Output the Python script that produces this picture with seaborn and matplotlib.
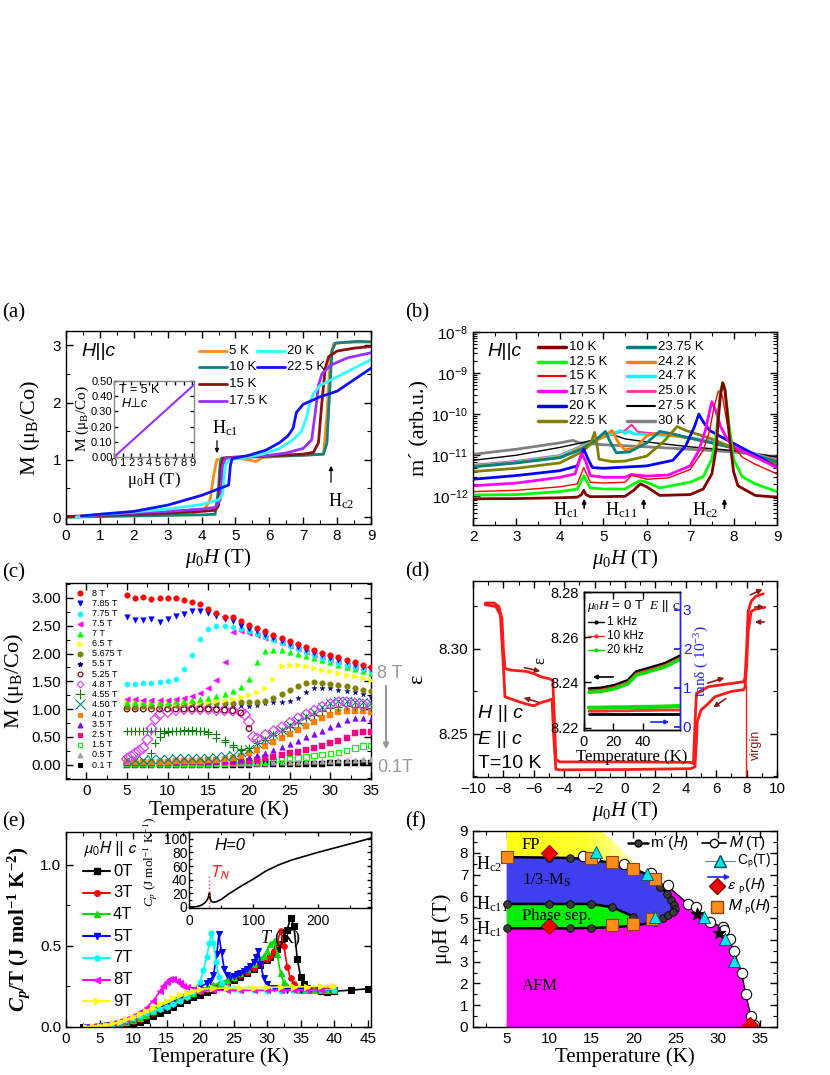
import numpy as np
import pandas as pd
import matplotlib
matplotlib.use("Agg")
import matplotlib.pyplot as plt
import seaborn as sns
from matplotlib.lines import Line2D
from matplotlib.patches import Polygon, FancyArrowPatch
from matplotlib.ticker import MultipleLocator, LogLocator, NullFormatter, FormatStrFormatter
from matplotlib.colors import LinearSegmentedColormap

sns.set_theme(style="ticks")
plt.rcParams["font.family"] = ["Liberation Sans", "DejaVu Sans"]
plt.rcParams["mathtext.fontset"] = "custom"
plt.rcParams["mathtext.rm"] = "Liberation Serif"
plt.rcParams["mathtext.it"] = "Liberation Serif:italic"
plt.rcParams["mathtext.bf"] = "Liberation Serif:bold"
plt.rcParams["mathtext.bfit"] = "Liberation Serif:italic:bold"
for k in ["axes.edgecolor", "xtick.color", "ytick.color", "text.color", "axes.labelcolor"]:
    plt.rcParams[k] = "black"
plt.rcParams["axes.linewidth"] = 1.0
SERIF = "Liberation Serif"

# ---------------- panel (a): M(H), H||c ----------------
a_labels = ["5 K", "10 K", "15 K", "17.5 K", "20 K", "22.5 K"]
a_colors = ["#FF8C1A", "#138080", "#8B1010", "#9B30FF", "#30FFFF", "#1010FF"]
a_H_5K = [0, 1, 2, 3, 3.8, 4.1, 4.25, 4.35, 4.45, 4.6, 5.0, 5.4, 5.6, 5.8, 6.2, 7.0, 7.6, 7.7, 7.8, 7.9, 8.2, 9.0]
a_M_5K = [0.01, 0.02, 0.03, 0.05, 0.08, 0.15, 0.3, 0.7, 1.0, 1.02, 1.03, 1.0, 0.97, 1.04, 1.06, 1.08, 1.1, 1.8, 2.8, 3.03, 3.05, 3.06]
a_H_10K = [0, 1, 2, 3, 4, 4.4, 4.5, 4.55, 4.6, 5, 6, 7, 7.6, 7.7, 7.78, 7.85, 7.95, 8.2, 8.6, 9.0]
a_M_10K = [0.0, 0.01, 0.02, 0.03, 0.04, 0.05, 0.5, 0.95, 1.03, 1.04, 1.06, 1.08, 1.1, 1.3, 2.2, 2.9, 3.04, 3.05, 3.07, 3.06]
a_H_15K = [0, 1, 2, 3, 4, 4.4, 4.5, 4.58, 4.65, 5, 6, 7, 7.3, 7.45, 7.55, 7.65, 7.75, 8.0, 8.5, 9.0]
a_M_15K = [0.01, 0.03, 0.05, 0.07, 0.1, 0.12, 0.2, 0.9, 1.03, 1.05, 1.07, 1.1, 1.13, 1.3, 2.0, 2.6, 2.8, 2.9, 2.95, 2.98]
a_H_17K = [0.3, 1, 2, 3, 4, 4.4, 4.55, 4.62, 4.7, 5, 6, 6.5, 7.0, 7.25, 7.35, 7.45, 7.55, 7.8, 8.3, 9.0]
a_M_17K = [0.0, 0.04, 0.07, 0.1, 0.14, 0.17, 0.3, 0.9, 1.03, 1.04, 1.08, 1.12, 1.2, 1.35, 1.8, 2.3, 2.5, 2.65, 2.78, 2.87]
a_H_20K = [0.3, 1, 2, 3, 4, 4.5, 4.62, 4.7, 4.8, 5.2, 5.8, 6.3, 6.7, 6.95, 7.1, 7.2, 7.3, 7.5, 8.0, 8.5, 9.0]
a_M_20K = [0.0, 0.05, 0.09, 0.14, 0.22, 0.3, 0.4, 0.9, 1.0, 1.03, 1.1, 1.2, 1.35, 1.5, 1.75, 2.0, 2.15, 2.3, 2.45, 2.6, 2.75]
a_H_22K = [0.45, 1, 2, 3, 4, 4.4, 4.8, 4.85, 4.9, 5.4, 5.9, 6.3, 6.55, 6.7, 6.8, 7.0, 7.5, 8.0, 8.5, 9.0]
a_M_22K = [0.02, 0.05, 0.1, 0.21, 0.38, 0.47, 0.56, 0.9, 1.02, 1.08, 1.17, 1.3, 1.42, 1.55, 1.83, 1.97, 2.1, 2.2, 2.4, 2.6]
a_in_H = [0, 9.2]
a_in_M = [0, 0.475]

# ---------------- panel (b): m'(H) ----------------
b_labels = ["10 K", "12.5 K", "15 K", "17.5 K", "20 K", "22.5 K",
            "23.75 K", "24.2 K", "24.7 K", "25.0 K", "27.5 K", "30 K"]
b_colors = ["#800000", "#00FF00", "#FF0000", "#FF00FF", "#0000FF", "#808000",
            "#008080", "#FF8000", "#00FFFF", "#FF3399", "#000000", "#808080"]
b_widths = [2, 2, 1, 2, 2, 2, 2, 2, 2, 1.5, 1, 2]
b_H = [
    [2, 3, 4, 4.4, 4.5, 4.55, 4.6, 4.7, 5.0, 5.5, 5.7, 5.85, 6.0, 6.3, 7.0, 7.3, 7.5, 7.6, 7.65, 7.7, 7.75, 7.8, 7.85, 7.9, 8.0, 8.1, 8.5, 9.0],
    [2, 3, 4, 4.4, 4.55, 4.7, 5.0, 5.5, 5.7, 5.85, 6.0, 6.3, 7.0, 7.3, 7.5, 7.6, 7.65, 7.7, 7.75, 7.8, 7.85, 7.9, 8.0, 8.2, 8.5, 9.0],
    [2, 3, 4, 4.4, 4.55, 4.7, 5.0, 5.5, 5.65, 5.8, 6.0, 6.5, 7.0, 7.3, 7.45, 7.55, 7.65, 7.7, 7.75, 7.85, 8.0, 8.2, 8.5, 9.0],
    [2, 3, 4, 4.35, 4.5, 4.6, 4.7, 5.0, 5.5, 5.65, 6.0, 6.5, 7.0, 7.2, 7.35, 7.45, 7.5, 7.58, 7.7, 7.85, 8.0, 8.5, 9.0],
    [2, 3, 4, 4.4, 4.55, 4.65, 4.75, 5.0, 6.0, 6.6, 6.9, 7.1, 7.2, 7.3, 7.45, 7.8, 8.2, 8.6, 9.0],
    [2, 3, 4, 4.5, 4.7, 4.8, 4.85, 4.9, 5.2, 5.5, 6.0, 6.4, 6.7, 6.9, 7.5, 8.0, 8.5, 9.0],
    [2, 3, 4, 4.5, 4.8, 5.05, 5.15, 5.3, 5.6, 6.0, 6.3, 6.6, 7.0, 7.5, 8.0, 8.5, 9.0],
    [2, 3, 4, 4.5, 5.0, 5.2, 5.35, 5.5, 5.75, 6.0, 6.2, 6.6, 7.0, 7.5, 8.0, 8.5, 9.0],
    [2, 3, 4, 4.5, 5.0, 5.4, 5.5, 5.6, 5.7, 6.0, 6.5, 7.0, 7.5, 8.0, 8.5, 9.0],
    [2, 3, 4, 4.5, 5.0, 5.5, 5.65, 5.8, 6.5, 7.0, 7.5, 8.0, 8.5, 9.0],
    [2, 3, 4, 4.5, 5.0, 5.2, 5.5, 6.0, 7.0, 8.0, 8.5, 9.0],
    [2, 3, 4, 4.3, 4.45, 5.0, 6.0, 7.0, 8.0, 8.5, 9.0],
]
b_m = [
    [8.7e-13, 8.8e-13, 9.2e-13, 9.5e-13, 1.1e-12, 1.4e-12, 1.1e-12, 9.8e-13, 9.8e-13, 1.0e-12, 1.4e-12, 2.0e-12, 1.7e-12, 1.05e-12, 1.1e-12, 1.5e-12, 3.5e-12, 1.5e-11, 8e-11, 3e-10, 5.8e-10, 4e-10, 1.2e-10, 3e-11, 4e-12, 1.8e-12, 1.05e-12, 9.5e-13],
    [1.07e-12, 1.1e-12, 1.3e-12, 1.5e-12, 3.2e-12, 1.6e-12, 1.5e-12, 1.5e-12, 2.0e-12, 2.4e-12, 2.2e-12, 1.6e-12, 2.2e-12, 3e-12, 8e-12, 3e-11, 1.2e-10, 3.5e-10, 5.8e-10, 4e-10, 1.5e-10, 5e-11, 8e-12, 3e-12, 2e-12, 1.3e-12],
    [1.3e-12, 1.4e-12, 1.7e-12, 2.0e-12, 5e-12, 2.2e-12, 2.1e-12, 2.2e-12, 3.2e-12, 3.0e-12, 2.6e-12, 2.8e-12, 4.5e-12, 1.3e-11, 4e-11, 1.5e-10, 3.6e-10, 3.8e-10, 2.5e-10, 6e-11, 1.6e-11, 9e-12, 6e-12, 3.5e-12],
    [1.8e-12, 2.1e-12, 2.9e-12, 3.5e-12, 1.1e-11, 7e-12, 3.2e-12, 2.9e-12, 2.9e-12, 3.4e-12, 3.1e-12, 3.3e-12, 5.5e-12, 1.3e-11, 4e-11, 1.2e-10, 2e-10, 1.3e-10, 5e-11, 2.5e-11, 1.6e-11, 9e-12, 5e-12],
    [2.6e-12, 3.2e-12, 4.2e-12, 5.5e-12, 1.4e-11, 8e-12, 5e-12, 4.8e-12, 5.5e-12, 7.5e-12, 1.7e-11, 5e-11, 1.0e-10, 6.5e-11, 4e-11, 2.5e-11, 1.5e-11, 9e-12, 5e-12],
    [4e-12, 4.8e-12, 6.5e-12, 1.2e-11, 1.8e-11, 3.6e-11, 2e-11, 8e-12, 7e-12, 7.2e-12, 9.5e-12, 2.2e-11, 5e-11, 4e-11, 2.5e-11, 1.5e-11, 9e-12, 6e-12],
    [5.2e-12, 6.5e-12, 8.7e-12, 1.4e-11, 2.2e-11, 3.8e-11, 2.2e-11, 1.15e-11, 1.2e-11, 2e-11, 3.8e-11, 3.3e-11, 2.6e-11, 2e-11, 1.5e-11, 1.0e-11, 7e-12],
    [5.3e-12, 6.6e-12, 9e-12, 1.5e-11, 2.8e-11, 4e-11, 2e-11, 1.35e-11, 1.5e-11, 3e-11, 3.4e-11, 3e-11, 2.6e-11, 2e-11, 1.5e-11, 1.0e-11, 7e-12],
    [5.4e-12, 6.8e-12, 9.5e-12, 1.6e-11, 2.8e-11, 4e-11, 3.4e-11, 3.9e-11, 3.3e-11, 3.2e-11, 3e-11, 2.7e-11, 2.1e-11, 1.5e-11, 1.05e-11, 7e-12],
    [5.8e-12, 7.2e-12, 1.0e-11, 1.7e-11, 2.8e-11, 4e-11, 5.5e-11, 3.7e-11, 3.1e-11, 2.7e-11, 2.2e-11, 1.55e-11, 1.1e-11, 7.5e-12],
    [7.5e-12, 1.0e-11, 1.55e-11, 2.0e-11, 2.7e-11, 3.2e-11, 2.5e-11, 2.1e-11, 1.6e-11, 1.3e-11, 1.1e-11, 9e-12],
    [1.05e-11, 1.4e-11, 2e-11, 2.3e-11, 2e-11, 1.8e-11, 1.6e-11, 1.4e-11, 1.2e-11, 1.05e-11, 9e-12],
]

# ---------------- panel (c): M(T) ----------------
c_T = list(range(5, 36))
c_8T = [3.05, 3.00, 3.02, 2.98, 3.00, 3.00, 3.00, 2.97, 2.93, 2.90, 2.80, 2.73, 2.66, 2.65, 2.58, 2.52, 2.46, 2.40, 2.34, 2.28, 2.23, 2.17, 2.11, 2.06, 2.01, 1.97, 1.93, 1.88, 1.84, 1.79, 1.75]
c_785T = [2.66, 2.60, 2.60, 2.62, 2.57, 2.63, 2.68, 2.72, 2.77, 2.77, 2.73, 2.68, 2.62, 2.58, 2.50, 2.45, 2.40, 2.34, 2.28, 2.22, 2.17, 2.11, 2.06, 2.01, 1.97, 1.92, 1.88, 1.84, 1.80, 1.76, 1.73]
c_775T = [1.45, 1.45, 1.46, 1.47, 1.48, 1.50, 1.55, 1.72, 1.97, 2.27, 2.45, 2.50, 2.50, 2.48, 2.45, 2.41, 2.36, 2.30, 2.25, 2.19, 2.13, 2.08, 2.02, 1.97, 1.92, 1.88, 1.83, 1.79, 1.75, 1.72, 1.69]
c_75T = [1.18, 1.18, 1.17, 1.16, 1.16, 1.17, 1.18, 1.20, 1.23, 1.28, 1.38, 1.52, 1.85, 2.38, 2.40, 2.37, 2.33, 2.28, 2.24, 2.19, 2.14, 2.08, 2.03, 1.98, 1.93, 1.88, 1.84, 1.80, 1.76, 1.73, 1.70]
c_7T = [1.12, 1.12, 1.12, 1.12, 1.13, 1.13, 1.14, 1.15, 1.16, 1.18, 1.20, 1.23, 1.27, 1.32, 1.40, 1.55, 1.85, 2.05, 2.07, 2.06, 2.03, 2.00, 1.96, 1.92, 1.88, 1.84, 1.80, 1.76, 1.72, 1.69, 1.65]
c_65T = [1.12, 1.12, 1.11, 1.11, 1.11, 1.11, 1.11, 1.12, 1.12, 1.13, 1.13, 1.14, 1.16, 1.18, 1.21, 1.25, 1.30, 1.38, 1.55, 1.78, 1.80, 1.80, 1.77, 1.74, 1.71, 1.68, 1.65, 1.62, 1.59, 1.56, 1.53]
c_5675T = [1.03, 1.04, 1.05, 1.06, 1.07, 1.08, 1.08, 1.09, 1.10, 1.10, 1.10, 1.10, 1.11, 1.11, 1.12, 1.12, 1.13, 1.15, 1.20, 1.27, 1.35, 1.42, 1.46, 1.48, 1.47, 1.45, 1.43, 1.41, 1.38, 1.35, 1.33]
c_55T = [1.05, 1.05, 1.05, 1.06, 1.06, 1.07, 1.07, 1.07, 1.08, 1.08, 1.08, 1.08, 1.07, 1.07, 1.07, 1.06, 1.08, 1.10, 1.12, 1.13, 1.15, 1.20, 1.30, 1.37, 1.38, 1.37, 1.35, 1.33, 1.30, 1.27, 1.22]
c_T525 = list(range(5, 21))
c_525T = [1.00, 1.00, 1.00, 1.00, 1.00, 1.00, 1.00, 1.00, 1.00, 1.00, 1.00, 0.99, 0.98, 0.97, 0.93, 0.65]
c_T48 = [5, 5.5, 6, 6.5, 7, 7.5, 8, 8.5, 9, 10, 11, 12, 13, 14, 15, 16, 17, 18, 19, 19.5, 20, 20.5,
         21, 22, 23, 24, 25, 26, 27, 28, 29, 30, 31, 32, 33, 34, 35]
c_48T = [0.10, 0.15, 0.20, 0.25, 0.30, 0.45, 0.65, 0.82, 0.90, 0.95, 0.98, 1.00, 1.00, 1.00, 1.00, 0.98, 0.98, 0.97, 0.95, 0.90, 0.77, 0.50,
         0.47, 0.53, 0.60, 0.67, 0.75, 0.83, 0.90, 0.97, 1.04, 1.09, 1.12, 1.12, 1.10, 1.08, 1.05]
c_T455 = [5, 5.5, 6, 6.5, 7, 7.5, 8, 8.5, 9, 9.5, 10, 10.5, 11, 11.5, 12, 12.5, 13, 13.5, 14, 14.5, 15,
          16, 17, 18, 19, 20, 21, 22, 23, 24, 25, 26, 27, 28, 29, 30, 31, 32, 33, 34, 35,
          8, 8.5, 9, 9.5, 10, 11, 12, 13, 14, 15, 16, 17, 18, 19]
c_455T = [0.60, 0.60, 0.60, 0.60, 0.60, 0.60, 0.60, 0.60, 0.60, 0.60, 0.60, 0.60, 0.60, 0.60, 0.61, 0.61, 0.61, 0.61, 0.60, 0.60, 0.59,
          0.55, 0.45, 0.35, 0.28, 0.30, 0.38, 0.45, 0.53, 0.60, 0.68, 0.75, 0.83, 0.90, 0.97, 1.02, 1.04, 1.05, 1.04, 1.03, 1.02,
          0.20, 0.38, 0.50, 0.56, 0.58, 0.60, 0.62, 0.62, 0.60, 0.55, 0.48, 0.40, 0.32, 0.26]
c_450T = [0.08, 0.09, 0.09, 0.10, 0.10, 0.10, 0.11, 0.11, 0.12, 0.12, 0.12, 0.13, 0.15, 0.18, 0.22, 0.28, 0.38, 0.46, 0.55, 0.63, 0.71, 0.79, 0.87, 0.95, 1.03, 1.10, 1.15, 1.15, 1.13, 1.12, 1.10]
c_40T = [0.05, 0.05, 0.05, 0.05, 0.05, 0.05, 0.06, 0.06, 0.07, 0.07, 0.08, 0.09, 0.10, 0.12, 0.15, 0.20, 0.26, 0.33, 0.40, 0.48, 0.55, 0.62, 0.69, 0.76, 0.83, 0.90, 0.95, 0.97, 0.97, 0.96, 0.94]
c_35T = [0.05, 0.05, 0.05, 0.05, 0.05, 0.05, 0.05, 0.06, 0.06, 0.06, 0.07, 0.07, 0.08, 0.08, 0.10, 0.13, 0.17, 0.21, 0.26, 0.31, 0.37, 0.43, 0.49, 0.55, 0.61, 0.67, 0.73, 0.80, 0.84, 0.84, 0.82]
c_25T = [0.03, 0.03, 0.03, 0.03, 0.03, 0.03, 0.04, 0.04, 0.04, 0.04, 0.04, 0.05, 0.05, 0.05, 0.06, 0.07, 0.09, 0.11, 0.14, 0.17, 0.20, 0.23, 0.27, 0.30, 0.34, 0.38, 0.42, 0.48, 0.56, 0.58, 0.58]
c_15T = [0.02, 0.02, 0.02, 0.02, 0.02, 0.02, 0.02, 0.03, 0.03, 0.03, 0.03, 0.03, 0.03, 0.04, 0.04, 0.04, 0.05, 0.06, 0.07, 0.09, 0.11, 0.12, 0.14, 0.16, 0.18, 0.20, 0.22, 0.25, 0.30, 0.33, 0.34]
c_05T = [0.01, 0.01, 0.01, 0.01, 0.01, 0.01, 0.01, 0.01, 0.01, 0.01, 0.01, 0.02, 0.02, 0.02, 0.02, 0.02, 0.03, 0.03, 0.04, 0.04, 0.05, 0.05, 0.06, 0.06, 0.07, 0.07, 0.08, 0.08, 0.09, 0.10, 0.10]
c_01T = [0.00, 0.00, 0.00, 0.00, 0.00, 0.00, 0.00, 0.00, 0.00, 0.00, 0.00, 0.00, 0.00, 0.00, 0.00, 0.00, 0.005, 0.005, 0.01, 0.01, 0.01, 0.01, 0.015, 0.015, 0.015, 0.02, 0.02, 0.02, 0.02, 0.025, 0.025]
c_labels = ["8 T", "7.85 T", "7.75 T", "7.5 T", "7 T", "6.5 T", "5.675 T", "5.5 T", "5.25 T", "4.8 T",
            "4.55 T", "4.50 T", "4.0 T", "3.5 T", "2.5 T", "1.5 T", "0.5 T", "0.1 T"]

# ---------------- panel (d): dielectric constant ----------------
d_up_H = [-9.2, -8.6, -8.3, -8.1, -8.0, -7.9, -7.5, -6.5, -6.0, -5.5, -5.0, -4.75, -4.65, -4.55, -4.3, 0, 4.3, 4.5, 4.6, 4.7,
          5.5, 7.0, 7.8, 7.9, 8.0, 8.1, 8.3, 8.6, 9.1]
d_up_eps = [8.327, 8.327, 8.325, 8.318, 8.300, 8.2885, 8.2875, 8.2868, 8.2855, 8.2835, 8.2825, 8.2815, 8.260, 8.235, 8.2335, 8.2335, 8.2332, 8.2325, 8.255, 8.2738,
            8.2778, 8.2797, 8.2807, 8.283, 8.300, 8.322, 8.328, 8.331, 8.3325]
d_dn_H = [9.2, 8.6, 8.3, 8.1, 8.0, 7.9, 7.8, 7.0, 5.9, 5.5, 5.0, 4.75, 4.7, 4.6, 4.3, 0, -4.3, -4.55, -4.7, -4.8,
          -5.1, -5.5, -6.0, -6.6, -7.9, -8.0, -8.2, -8.5, -9.2]
d_dn_eps = [8.3245, 8.3235, 8.322, 8.31, 8.29, 8.2775, 8.276, 8.275, 8.2718, 8.268, 8.264, 8.257, 8.245, 8.2305, 8.2295, 8.229, 8.2288, 8.2292, 8.25, 8.2705,
            8.2695, 8.2685, 8.2665, 8.2678, 8.2718, 8.29, 8.32, 8.325, 8.326]
d_virgin_H = [7.95, 7.95]
d_virgin_eps = [8.20, 8.279]
d_in_T = [3.4, 11.5, 20.7, 29.9, 35.6, 43.7, 55.2, 65.5]
d_in_eps_1k = [8.2373, 8.2376, 8.2388, 8.2410, 8.2448, 8.2463, 8.2485, 8.2518]
d_in_eps_10k = [8.2365, 8.2368, 8.2380, 8.2402, 8.2440, 8.2455, 8.2477, 8.2510]
d_in_eps_20k = [8.2357, 8.2360, 8.2372, 8.2394, 8.2432, 8.2447, 8.2469, 8.2502]
d_in_tan_1k = [0.33, 0.33, 0.33, 0.33, 0.33, 0.33, 0.33, 0.33]
d_in_tan_10k = [0.40, 0.40, 0.41, 0.41, 0.42, 0.42, 0.43, 0.43]
d_in_tan_20k = [0.49, 0.49, 0.50, 0.50, 0.51, 0.51, 0.52, 0.53]

# ---------------- panel (e): specific heat ----------------
e_labels = ["0T", "3T", "4T", "5T", "7T", "8T", "9T"]
e_colors = ["#000000", "#FF0000", "#00DD00", "#0000FF", "#00FFFF", "#FF00FF", "#FFFF00"]
e_markers = ["s", "o", "^", "v", "h", "<", ">"]
e_T = [
    [2.5, 4, 5, 6, 7, 8, 9, 10, 11, 12, 13, 14, 15, 16, 17, 18, 19, 20, 21, 22, 23, 24, 25, 26, 27, 28, 29, 30,
     30.5, 31, 31.5, 32, 32.5, 33, 33.5, 34, 34.5, 35, 35.5, 36, 37, 38, 39, 40, 42.5, 45],
    [3, 4, 5, 6, 7, 8, 9, 10, 11, 12, 13, 14, 15, 16, 17, 18, 19, 20, 21, 22, 23, 24, 25, 26, 27, 28, 29, 30,
     30.5, 31, 31.5, 32, 32.5, 33, 33.5, 34, 35, 36, 37, 38, 39, 40],
    [3, 4, 5, 6, 7, 8, 9, 10, 11, 12, 13, 14, 15, 16, 17, 18, 19, 20, 21, 22, 23, 24, 25, 26, 27, 28, 29,
     29.5, 30, 30.5, 31, 31.5, 32, 32.5, 33, 34, 35, 36, 37, 38, 39, 40],
    [3, 4, 5, 6, 7, 8, 9, 10, 11, 12, 13, 14, 15, 16, 17, 18, 19, 20, 21,
     21.5, 22, 22.5, 22.8, 23.2, 23.6, 24, 24.5, 25, 25.5, 26, 26.5, 27, 27.5, 28, 28.3, 28.7, 29, 29.5, 30,
     31, 32, 33, 34, 35, 36, 38, 40],
    [3, 4, 5, 6, 7, 8, 9, 10, 11, 12, 13, 14, 15, 16, 17, 18, 19, 20,
     20.5, 21, 21.4, 21.7, 22, 22.4, 22.8, 23.2, 24, 25, 26, 28, 30, 32, 34, 36, 38, 40],
    [3, 4, 5, 6, 7, 8, 9, 10, 11, 12, 13, 14, 14.5, 15, 15.5, 16, 16.5, 17, 17.5, 18,
     19, 20, 22, 24, 26, 28, 30, 32, 34, 36, 38],
    [3, 4, 5, 6, 7, 8, 9, 10, 11, 12, 13, 14, 15, 16, 17, 18, 19, 20, 22, 24, 26, 28, 30, 32, 34, 36, 38, 40],
]
e_C = [
    [0.0, 0.0, 0.0, 0.002, 0.004, 0.008, 0.012, 0.018, 0.03, 0.045, 0.065, 0.085, 0.105, 0.125, 0.145, 0.165, 0.185, 0.2, 0.215, 0.23, 0.25, 0.27, 0.29, 0.31, 0.33, 0.355, 0.38, 0.41,
     0.43, 0.45, 0.48, 0.51, 0.55, 0.6, 0.67, 0.62, 0.42, 0.31, 0.265, 0.24, 0.225, 0.22, 0.218, 0.22, 0.227, 0.235],
    [0.0, 0.0, 0.003, 0.006, 0.01, 0.016, 0.025, 0.035, 0.05, 0.068, 0.088, 0.108, 0.128, 0.148, 0.168, 0.186, 0.205, 0.22, 0.235, 0.25, 0.265, 0.28, 0.3, 0.32, 0.34, 0.365, 0.39, 0.42,
     0.44, 0.47, 0.52, 0.59, 0.5, 0.37, 0.3, 0.265, 0.24, 0.23, 0.225, 0.225, 0.228, 0.23],
    [0.0, 0.0, 0.004, 0.008, 0.013, 0.02, 0.03, 0.042, 0.058, 0.076, 0.096, 0.116, 0.136, 0.156, 0.176, 0.195, 0.212, 0.228, 0.243, 0.258, 0.273, 0.29, 0.31, 0.33, 0.355, 0.385, 0.42,
     0.44, 0.47, 0.51, 0.53, 0.45, 0.33, 0.275, 0.25, 0.235, 0.228, 0.225, 0.225, 0.225, 0.228, 0.23],
    [0.0, 0.002, 0.005, 0.01, 0.016, 0.025, 0.036, 0.05, 0.067, 0.085, 0.105, 0.125, 0.145, 0.165, 0.185, 0.205, 0.225, 0.245, 0.27,
     0.285, 0.32, 0.45, 0.57, 0.46, 0.36, 0.32, 0.31, 0.315, 0.325, 0.335, 0.345, 0.36, 0.375, 0.4, 0.43, 0.465, 0.39, 0.3, 0.265,
     0.24, 0.232, 0.228, 0.226, 0.225, 0.225, 0.226, 0.228],
    [0.0, 0.003, 0.006, 0.012, 0.02, 0.03, 0.042, 0.055, 0.07, 0.085, 0.1, 0.112, 0.125, 0.14, 0.16, 0.185, 0.215, 0.28,
     0.35, 0.43, 0.52, 0.58, 0.52, 0.4, 0.31, 0.27, 0.245, 0.232, 0.228, 0.225, 0.224, 0.224, 0.225, 0.226, 0.228, 0.23],
    [0.0, 0.004, 0.008, 0.015, 0.024, 0.036, 0.05, 0.067, 0.09, 0.12, 0.16, 0.22, 0.255, 0.28, 0.293, 0.295, 0.285, 0.27, 0.255, 0.245,
     0.235, 0.23, 0.227, 0.225, 0.225, 0.225, 0.225, 0.225, 0.226, 0.227, 0.23],
    [0.0, 0.004, 0.008, 0.014, 0.022, 0.033, 0.047, 0.063, 0.08, 0.1, 0.12, 0.14, 0.16, 0.18, 0.197, 0.212, 0.224, 0.232, 0.238, 0.24, 0.242, 0.243, 0.244, 0.245, 0.247, 0.248, 0.25, 0.25],
]
e_in_T = [2, 10, 15, 20, 25, 28, 30, 31, 32, 33, 35, 38, 42, 50, 60, 70, 80, 100, 120, 140, 160, 180, 200, 220, 240, 260, 283]
e_in_C = [0, 0.3, 1.2, 3.0, 6.5, 10, 14, 18, 21, 12, 8, 7, 7.5, 11, 18, 24, 30, 41, 53, 62, 69, 74.5, 80, 85, 90, 95, 101]
e_TN = 31.5

# ---------------- panel (f): phase diagram ----------------
f_hc2_T = [5, 10, 12.5, 15, 17.5, 20, 21.7, 22.3, 23.1, 24.0, 24.5, 24.8, 24.9]
f_hc2_H = [7.80, 7.78, 7.76, 7.70, 7.52, 7.28, 6.98, 6.75, 6.45, 6.12, 5.82, 5.58, 5.42]
f_hc1_T = [5, 10, 12.5, 15, 17.5, 20, 22.5, 23.5, 24.1, 24.7]
f_hc1_H = [4.53, 4.53, 4.53, 4.55, 4.58, 4.65, 4.81, 5.00, 5.15, 5.30]
f_hc11_T = [5, 10, 12.5, 15, 17.5, 20]
f_hc11_H = [5.65, 5.65, 5.65, 5.65, 5.50, 5.07]
f_out_T = [22.3, 24.1, 26.5, 27.4, 29.1, 30.6, 31.4, 31.9, 32.8, 33.3, 33.9, 34.3]
f_out_H = [6.75, 6.45, 5.65, 5.45, 4.85, 4.55, 4.00, 3.45, 2.50, 1.50, 0.50, 0.00]
f_MT_T = [14, 15.5, 18.9, 22.1, 24.1, 26.5, 27.4, 29.1, 30.6, 30.7, 31.4, 31.9, 32.8, 33.3, 33.9, 34.3]
f_MT_H = [7.84, 7.75, 7.50, 7.07, 6.50, 5.65, 5.50, 4.80, 4.58, 4.45, 4.04, 3.47, 2.50, 1.50, 0.49, 0.08]
f_cp_T = [15.6, 21.6, 22.6, 28.3, 30.8, 31.9, 33.7]
f_cp_H = [8.04, 7.04, 5.04, 5.04, 4.04, 3.04, 0.08]
f_eps_T = [10, 10, 33.8]
f_eps_H = [8.0, 4.65, 0.08]
f_Mp_T = [5, 15, 17.5, 20, 22.6, 17.5, 20, 22.2]
f_Mp_H = [7.80, 7.76, 7.58, 7.27, 6.78, 4.68, 4.73, 4.96]
f_star_T = [27.5, 30.1]
f_star_H = [5.2, 4.3]
f_fp_corner = [(5, 9.0), (16.3, 9.0), (21.7, 6.98)]

# ---------------- figure helpers ----------------
W, H = 830, 1075
fig = plt.figure(figsize=(W / 100, H / 100), dpi=100)


def add_ax(x0, y0, x1, y1):
    return fig.add_axes([x0 / W, 1 - y1 / H, (x1 - x0) / W, (y1 - y0) / H])


def fx(x):
    return x / W


def fy(y):
    return 1 - y / H


def ftext(x, y, s, **kw):
    kw.setdefault("va", "center")
    fig.text(fx(x), fy(y), s, **kw)


def fhandle(x0, x1, y, marker=None, **kw):
    xm = (x0 + x1) / 2
    ln = Line2D([fx(x0), fx(xm), fx(x1)], [fy(y)] * 3, transform=fig.transFigure,
                marker=marker, markevery=[1] if marker else None, **kw)
    fig.add_artist(ln)


def farrow(x0, y0, x1, y1, color, lw=1.3, ms=9):
    fig.add_artist(FancyArrowPatch((fx(x0), fy(y0)), (fx(x1), fy(y1)), transform=fig.transFigure,
                                   arrowstyle="-|>", mutation_scale=ms, color=color, lw=lw))


def style(ax, fs=11):
    ax.tick_params(which="both", direction="in", top=True, right=True, labelsize=fs, colors="black")
    ax.tick_params(which="major", length=5, width=1)
    ax.tick_params(which="minor", length=3, width=0.8)


LAB = dict(fontfamily=SERIF, fontsize=15)

# ================= (a) =================
axa = add_ax(66, 331, 371, 524)
a_H = [a_H_5K, a_H_10K, a_H_15K, a_H_17K, a_H_20K, a_H_22K]
a_M = [a_M_5K, a_M_10K, a_M_15K, a_M_17K, a_M_20K, a_M_22K]
for xs, ys, c in zip(a_H, a_M, a_colors):
    sns.lineplot(x=xs, y=ys, color=c, lw=2, sort=False, estimator=None, ax=axa)
axa.set_xlim(0, 9)
axa.set_ylim(-0.12, 3.25)
axa.xaxis.set_major_locator(MultipleLocator(1))
axa.xaxis.set_minor_locator(MultipleLocator(0.5))
axa.yaxis.set_major_locator(MultipleLocator(1))
axa.yaxis.set_minor_locator(MultipleLocator(0.5))
style(axa)
axa.set_xlabel(r"$\mu_0H$ (T)", labelpad=2, **LAB)
axa.set_ylabel(r"M ($\mathrm{\mu_B}$/Co)", labelpad=8, fontfamily=SERIF, fontsize=16)
ftext(2, 313, "(a)", fontfamily=SERIF, fontsize=15)
ftext(81, 352, "H||c", fontsize=14, fontstyle="italic")
ftext(212, 428, r"H$_{\rm c1}$", fontfamily=SERIF, fontsize=13)
farrow(217, 438, 217, 456, "black", lw=0.9, ms=6)
ftext(328, 501, r"H$_{\rm c2}$", fontfamily=SERIF, fontsize=13)
farrow(331, 485, 331, 463, "black", lw=0.9, ms=6)
rows_a = [350.7, 367.3, 384, 400.7]
for i, (lab, c) in enumerate(zip(a_labels, a_colors)):
    col, row = (0, i) if i < 4 else (1, i - 4)
    x0 = 199 if col == 0 else 257
    fhandle(x0, x0 + 28, rows_a[row], color=c, lw=2)
    ftext(x0 + 30, rows_a[row], lab, fontsize=9.5)

axai = add_ax(114, 381, 194, 457)
sns.lineplot(x=a_in_H, y=a_in_M, color="#9B30FF", lw=1.5, ax=axai)
axai.set_xlim(0, 9.2)
axai.set_ylim(0, 0.5)
axai.set_xticks(range(0, 10))
axai.set_yticks([0, 0.1, 0.2, 0.3, 0.4, 0.5])
axai.yaxis.set_major_formatter(FormatStrFormatter("%.2f"))
style(axai, fs=8)
axai.tick_params(which="major", length=3, pad=1)
for s in axai.spines.values():
    s.set_edgecolor("#888888")
axai.set_xlabel(r"$\mathrm{\mu_0H}$ (T)", fontfamily=SERIF, fontsize=12, labelpad=1)
axai.set_ylabel(r"M ($\mathrm{\mu_B}$/Co)", fontfamily=SERIF, fontsize=11, labelpad=0)
axai.text(0.06, 0.88, "T = 5 K", transform=axai.transAxes, fontsize=9, va="center")
axai.text(0.1, 0.7, "H⊥c", transform=axai.transAxes, fontsize=9, va="center", fontstyle="italic")

# ================= (b) =================
axb = add_ax(473, 332, 777, 525)
axb.set_yscale("log")
order_b = [11, 10, 9, 8, 7, 6, 5, 4, 3, 2, 1, 0]
for i in order_b:
    sns.lineplot(x=b_H[i], y=b_m[i], color=b_colors[i], lw=b_widths[i], sort=False, estimator=None, ax=axb)
axb.set_xlim(2, 9)
axb.set_ylim(2e-13, 1e-8)
axb.xaxis.set_major_locator(MultipleLocator(1))
axb.xaxis.set_minor_locator(MultipleLocator(0.5))
axb.yaxis.set_major_locator(LogLocator(base=10, numticks=10))
axb.yaxis.set_minor_locator(LogLocator(base=10, subs=range(2, 10), numticks=20))
axb.yaxis.set_minor_formatter(NullFormatter())
style(axb)
axb.set_xlabel(r"$\mu_0H$ (T)", labelpad=2, **LAB)
axb.set_ylabel("m´ (arb.u.)", labelpad=2, fontfamily=SERIF, fontsize=16)
ftext(405, 313, "(b)", fontfamily=SERIF, fontsize=15)
ftext(487, 352, "H||c", fontsize=14, fontstyle="italic")
rows_b = [346.7, 361.7, 376, 391, 406, 420.7]
for i, (lab, c) in enumerate(zip(b_labels, b_colors)):
    col, row = (0, i) if i < 6 else (1, i - 6)
    x0 = 538 if col == 0 else 627
    fhandle(x0, x0 + 28, rows_b[row], color=c, lw=b_widths[i] + 0.5)
    ftext(x0 + 31, rows_b[row], lab, fontsize=9.5)
for xa, lab, xl in [(4.56, r"H$_{\rm c1}$", 553), (5.93, r"H$_{\rm c11}$", 605), (7.79, r"H$_{\rm c2}$", 692)]:
    xp = 473 + (xa - 2) / 7 * 304
    farrow(xp, 511, xp, 496, "black", lw=1.2, ms=6)
    ftext(xl, 510, lab, fontfamily=SERIF, fontsize=13)

# ================= (c) =================
axc = add_ax(66, 583, 371, 779)
c_style = [
    (c_T, c_8T, "o", "#FF0000", True), (c_T, c_785T, "v", "#0000FF", True), (c_T, c_775T, "h", "#00FFFF", True),
    (c_T, c_75T, "<", "#FF00FF", True), (c_T, c_7T, "^", "#00FF00", True), (c_T, c_65T, ">", "#FFFF00", True),
    (c_T, c_5675T, "o", "#808000", True), (c_T, c_55T, "*", "#000080", True), (c_T525, c_525T, "o", "#800000", False),
    (c_T48, c_48T, "D", "#E040FB", False), (c_T455, c_455T, "+", "#008000", True), (c_T, c_450T, "x", "#008080", True),
    (c_T, c_40T, "s", "#FF8000", True), (c_T, c_35T, "^", "#8000FF", True), (c_T, c_25T, "s", "#FF0080", True),
    (c_T, c_15T, "s", "#00FF00", False), (c_T, c_05T, "^", "#A0A0A0", True), (c_T, c_01T, "s", "#000000", True),
]
for k in range(len(c_style) - 1, -1, -1):
    xs, ys, m, c, filled = c_style[k]
    size = 30 if m == "D" else (40 if m in "+x" else 16)
    if filled:
        sns.scatterplot(x=xs, y=ys, marker=m, s=size, color=c, edgecolor=c if m not in "+x" else None,
                        linewidth=0.8 if m in "+x" else 0.3, ax=axc, legend=False, zorder=3)
    else:
        sns.scatterplot(x=xs, y=ys, marker=m, s=size, facecolor="none", edgecolor=c, linewidth=0.9,
                        ax=axc, legend=False, zorder=3)
axc.set_xlim(-2.5, 35)
axc.set_ylim(-0.26, 3.27)
axc.xaxis.set_major_locator(MultipleLocator(5))
axc.xaxis.set_minor_locator(MultipleLocator(2.5))
axc.yaxis.set_major_locator(MultipleLocator(0.5))
axc.yaxis.set_minor_locator(MultipleLocator(0.25))
axc.yaxis.set_major_formatter(FormatStrFormatter("%.2f"))
style(axc)
axc.set_xlabel("Temperature (K)", labelpad=2, **LAB)
axc.set_ylabel(r"M ($\mathrm{\mu_B}$/Co)", labelpad=4, fontfamily=SERIF, fontsize=16)
ftext(2, 573, "(c)", fontfamily=SERIF, fontsize=15)
for i, (lab, st) in enumerate(zip(c_labels, c_style)):
    y = 593.3 + 10.1 * i
    m, c, filled = st[2], st[3], st[4]
    big = lab in ("4.55 T", "4.50 T")
    fig.add_artist(Line2D([fx(80)], [fy(y)], transform=fig.transFigure, marker=m, ls="none",
                          markersize=7 if big else 3.5, color=c,
                          markerfacecolor=c if filled else "none", markeredgecolor=c, markeredgewidth=0.8))
    ftext(92, y, lab, fontsize=6.5)
ftext(377, 673, "8 T", fontsize=13, color="#999999")
farrow(386, 683, 386, 752, "#999999", lw=1.5, ms=8)
ftext(377, 767, "0.1T", fontsize=13, color="#999999")

# ================= (d) =================
axd = add_ax(473, 581, 777, 777)
sns.lineplot(x=d_up_H, y=d_up_eps, color="#FF1A1A", lw=2, sort=False, estimator=None, ax=axd)
sns.lineplot(x=d_dn_H, y=d_dn_eps, color="#FF1A1A", lw=2, sort=False, estimator=None, ax=axd)
sns.lineplot(x=d_virgin_H, y=d_virgin_eps, color="#FF1A1A", lw=1, sort=False, estimator=None, ax=axd)
axd.set_xlim(-10, 10)
axd.set_ylim(8.2246, 8.340)
axd.xaxis.set_major_locator(MultipleLocator(2))
axd.xaxis.set_minor_locator(MultipleLocator(1))
axd.yaxis.set_major_locator(MultipleLocator(0.05))
axd.yaxis.set_minor_locator(MultipleLocator(0.025))
axd.yaxis.set_major_formatter(FormatStrFormatter("%.2f"))
style(axd)
axd.set_xlabel(r"$\mu_0H$ (T)", labelpad=2, **LAB)
axd.set_ylabel("ε", labelpad=8, fontfamily=SERIF, fontsize=16)
ftext(405, 572, "(d)", fontfamily=SERIF, fontsize=15)
ftext(478, 713, "H || c", fontsize=14, fontstyle="italic")
ftext(478, 740, "E || c", fontsize=14, fontstyle="italic")
ftext(478, 764, "T=10 K", fontsize=14)
ftext(756, 745, "virgin", fontsize=9, color="#8B1A1A", rotation=90, ha="center")
DR = "#8B1A1A"
farrow(522, 667, 543, 672, DR, lw=1.2, ms=7)
farrow(541, 703, 521, 697, DR, lw=1.2, ms=7)
farrow(705, 684, 727, 677, DR, lw=1.2, ms=7)
farrow(728, 697, 711, 709, DR, lw=1.2, ms=7)
farrow(748, 596, 765, 588, DR, lw=1.2, ms=7)
farrow(752, 607, 767, 607, DR, lw=1.2, ms=7)
farrow(767, 622, 752, 622, DR, lw=1.2, ms=7)

axdi = add_ax(584, 592, 680, 730)
axdi2 = axdi.twinx()
for ys, c, w in [(d_in_eps_1k, "black", 2), (d_in_eps_10k, "#FF3030", 1.5), (d_in_eps_20k, "#00E000", 2.5)]:
    sns.lineplot(x=d_in_T, y=ys, color=c, lw=w, ax=axdi)
for ys, c, w in [(d_in_tan_1k, "black", 2), (d_in_tan_10k, "#FF3030", 2), (d_in_tan_20k, "#00E000", 3)]:
    sns.lineplot(x=d_in_T, y=ys, color=c, lw=w, ax=axdi2)
axdi.set_xlim(0, 65.5)
axdi.set_ylim(8.219, 8.28)
axdi2.set_ylim(-0.08, 3.45)
axdi.set_xticks([0, 20, 40])
axdi.set_yticks([8.22, 8.24, 8.26, 8.28])
axdi.yaxis.set_major_formatter(FormatStrFormatter("%.2f"))
axdi2.set_yticks([0, 1, 2, 3])
style(axdi, fs=10.5)
axdi.tick_params(right=False)
axdi2.tick_params(which="both", direction="in", labelsize=11, colors="#2020FF", length=4, pad=2)
axdi2.spines["right"].set_edgecolor("#2020FF")
axdi.set_xlabel("Temperature (K)", fontfamily=SERIF, fontsize=12, labelpad=0)
axdi.set_ylabel("ε", fontfamily=SERIF, fontsize=12, labelpad=2)
axdi2.set_ylabel(r"tanδ ( 10$^{-3}$)", fontfamily=SERIF, fontsize=11, color="#2020FF", labelpad=1)
axdi.text(0.03, 0.9, r"$\mu_0H$ = 0 T  $E$ || $c$", transform=axdi.transAxes, fontsize=9.5, va="center")
for j, (lab, c) in enumerate([("1 kHz", "black"), ("10 kHz", "#FF3030"), ("20 kHz", "#00E000")]):
    yy = 622 + j * 14
    fhandle(588, 604, yy, marker="o", color=c, lw=1, markersize=2)
    ftext(607, yy, lab, fontsize=8.5)
farrow(616, 677, 590, 677, "black", lw=1.2, ms=6)
farrow(648, 722, 672, 722, "#2020FF", lw=1.2, ms=6)

# ================= (e) =================
axe = add_ax(66, 832, 371, 1027)
for xs, ys, c, m in zip(e_T, e_C, e_colors, e_markers):
    sns.lineplot(x=xs, y=ys, color=c, lw=1.2, marker=m, markersize=4, markeredgecolor=c,
                 sort=False, estimator=None, ax=axe)
axe.set_xlim(0, 45.5)
axe.set_ylim(0, 1.2)
axe.xaxis.set_major_locator(MultipleLocator(5))
axe.xaxis.set_minor_locator(MultipleLocator(2.5))
axe.yaxis.set_major_locator(MultipleLocator(0.5))
axe.yaxis.set_minor_locator(MultipleLocator(0.25))
axe.yaxis.set_major_formatter(FormatStrFormatter("%.1f"))
style(axe)
axe.set_xlabel("Temperature (K)", labelpad=1, **LAB)
axe.set_ylabel(r"$\mathbfit{C_p}$/T (J mol$^{\mathbf{-1}}$ K$^{\mathbf{-2}}$)", fontfamily=SERIF,
               fontsize=15, fontweight="bold", labelpad=6)
ftext(2, 822, "(e)", fontfamily=SERIF, fontsize=15)
ftext(83, 849, r"$\mu_0H$ || $c$", fontsize=12, fontstyle="italic", math_fontfamily="stixsans")
for i, (lab, c, m) in enumerate(zip(e_labels, e_colors, e_markers)):
    yy = 871 + 21.7 * i
    fhandle(83, 110, yy, marker=m, color=c, lw=1.5, markersize=4)
    ftext(113, yy, lab, fontsize=12)

axei = add_ax(189, 832, 371, 908)
sns.lineplot(x=e_in_T, y=e_in_C, color="black", lw=1.2, sort=False, estimator=None, ax=axei)
axei.plot([e_TN, e_TN], [0, 45], color="#FF4040", lw=1, ls=":")
axei.set_xlim(0, 283)
axei.set_ylim(-1.5, 110)
axei.set_xticks([0, 100, 200])
axei.set_yticks([0, 20, 40, 60, 80, 100])
axei.xaxis.set_minor_locator(MultipleLocator(50))
axei.yaxis.set_minor_locator(MultipleLocator(10))
style(axei, fs=10)
axei.tick_params(which="major", length=3, pad=1)
axei.tick_params(axis="x", which="major", pad=4)
axei.tick_params(which="minor", length=2)
axei.set_xlabel(r"$T$ (K)", fontfamily=SERIF, fontsize=13, labelpad=0)
axei.set_ylabel(r"$C_p$ (J mol$^{-1}$ K$^{-1}$)", fontfamily=SERIF, fontsize=9.5)
axei.yaxis.set_label_coords(-0.16, 0.6)
axei.text(0.14, 0.82, "H=0", transform=axei.transAxes, fontsize=12, fontstyle="italic", va="center")
axei.text(e_TN - 1, 50, r"$T_N$", fontsize=12, color="#FF2020", math_fontfamily="stixsans", va="center")

# ================= (f) =================
axf = add_ax(473, 831, 777, 1027)
magenta_pts = [(5, 0)] + list(zip(f_hc2_T[:8], f_hc2_H[:8])) + list(zip(f_out_T[1:], f_out_H[1:]))
blue_pts = (list(zip(f_hc2_T, f_hc2_H)) + list(zip(f_hc1_T[::-1][:5], f_hc1_H[::-1][:5]))
            + [(20, 5.07)] + list(zip(f_hc11_T[::-1][1:], f_hc11_H[::-1][1:])))
green_pts = list(zip(f_hc11_T, f_hc11_H)) + list(zip(f_hc1_T[:6][::-1], f_hc1_H[:6][::-1]))
fp_pts = f_fp_corner + list(zip(f_hc2_T[:6][::-1], f_hc2_H[:6][::-1]))
axf.add_patch(Polygon(magenta_pts, closed=True, facecolor="#FF00FF", edgecolor="none", zorder=1))
axf.add_patch(Polygon(blue_pts, closed=True, facecolor="#3F3FF0", edgecolor="none", zorder=1.1))
axf.add_patch(Polygon(green_pts, closed=True, facecolor="#00F000", edgecolor="none", zorder=1.2))
fp_patch = Polygon(fp_pts, closed=True, facecolor="none", edgecolor="none")
axf.add_patch(fp_patch)
fp_cmap = LinearSegmentedColormap.from_list("fp", ["#FFFF10", "#FFFF30", "#FFFFB8"])
im = axf.imshow([[0.0, 0.3, 0.6, 1.0]], extent=[5, 22, 6.9, 9], aspect="auto", cmap=fp_cmap,
                interpolation="bilinear", origin="lower", zorder=1)
im.set_clip_path(fp_patch)
sns.lineplot(x=f_out_T, y=f_out_H, color="black", lw=1.0, sort=False, estimator=None, ax=axf, zorder=2)
for xs, ys in [(f_hc2_T + f_hc1_T[::-1][:1], f_hc2_H + f_hc1_H[::-1][:1]),
               (f_hc1_T, f_hc1_H), (f_hc11_T, f_hc11_H)]:
    sns.lineplot(x=xs, y=ys, color="black", lw=1.8, sort=False, estimator=None, ax=axf, zorder=3)
sns.scatterplot(x=f_hc2_T + f_hc1_T + f_hc11_T, y=f_hc2_H + f_hc1_H + f_hc11_H, marker="o", s=30,
                color="#3A3A3A", edgecolor="black", linewidth=0.6, ax=axf, legend=False, zorder=4)
sns.scatterplot(x=f_MT_T, y=f_MT_H, marker="o", s=55, color="white", edgecolor="black", linewidth=0.8,
                ax=axf, legend=False, zorder=5)
sns.scatterplot(x=f_star_T, y=f_star_H, marker="*", s=90, color="black", edgecolor="black",
                ax=axf, legend=False, zorder=5)
sns.scatterplot(x=f_Mp_T, y=f_Mp_H, marker="s", s=70, color="#FF8C1A", edgecolor="#8B4513", linewidth=0.8,
                ax=axf, legend=False, zorder=6)
sns.scatterplot(x=f_cp_T, y=f_cp_H, marker="^", s=75, color="#00E5EE", edgecolor="#005050", linewidth=0.6,
                ax=axf, legend=False, zorder=6)
sns.scatterplot(x=f_eps_T, y=f_eps_H, marker="D", s=70, color="#EE0000", edgecolor="#880000", linewidth=0.6,
                ax=axf, legend=False, zorder=7)
axf.set_xlim(1, 37)
axf.set_ylim(0, 9)
axf.xaxis.set_major_locator(MultipleLocator(5))
axf.xaxis.set_minor_locator(MultipleLocator(2.5))
axf.yaxis.set_major_locator(MultipleLocator(1))
axf.yaxis.set_minor_locator(MultipleLocator(0.5))
axf.set_xticks([5, 10, 15, 20, 25, 30, 35])
style(axf)
for sp in axf.spines.values():
    sp.set_zorder(10)
axf.set_xlabel("Temperature (K)", labelpad=1, **LAB)
axf.set_ylabel(r"$\mathrm{\mu_0H}$ (T)", labelpad=4, fontfamily=SERIF, fontsize=16)
ftext(405, 822, "(f)", fontfamily=SERIF, fontsize=15)
axf.text(6.8, 8.35, "FP", fontfamily=SERIF, fontsize=12, va="center", zorder=8)
axf.text(6.8, 6.75, r"1/3-M$_{\rm S}$", fontfamily=SERIF, fontsize=12, va="center", zorder=8)
axf.text(6.8, 5.1, "Phase sep.", fontfamily=SERIF, fontsize=12, va="center", zorder=8)
axf.text(6.8, 1.9, "AFM", fontfamily=SERIF, fontsize=12, va="center", zorder=8)
axf.text(1.3, 7.5, r"H$_{\rm c2}$", fontfamily=SERIF, fontsize=13, va="center", zorder=0.5)
axf.text(1.3, 5.65, r"H$_{\rm c11}$", fontfamily=SERIF, fontsize=13, va="center", zorder=0.5)
axf.text(1.3, 4.5, r"H$_{\rm c1}$", fontfamily=SERIF, fontsize=13, va="center", zorder=0.5)
fhandle(628, 648, 843, marker="o", color="black", lw=1.8, markersize=5, markerfacecolor="#3A3A3A")
ftext(650, 843, r"m´($H$)", fontsize=11, math_fontfamily="stixsans")
fhandle(702, 726, 843, marker="o", color="black", lw=1.2, markersize=6, markerfacecolor="white")
ftext(728, 843, r"$M$ (T)", fontsize=11, math_fontfamily="stixsans")
fhandle(705, 735, 861, marker="^", color="#5A8A8A", lw=0.8, markersize=8, markerfacecolor="#00E5EE",
        markeredgecolor="#005050")
ftext(737, 861, r"C$_{\rm p}$(T)", fontsize=10, math_fontfamily="stixsans")
farrow(705, 877, 733, 877, "#2020FF", lw=1.2, ms=7)
fig.add_artist(Line2D([fx(717)], [fy(886)], transform=fig.transFigure, marker="D", ls="none", markersize=8,
                      color="#EE0000", markeredgecolor="#880000"))
ftext(727, 886, r"$\varepsilon$ $_{\rm p}$($H$)", fontsize=11, math_fontfamily="stixsans")
fig.add_artist(Line2D([fx(717)], [fy(907)], transform=fig.transFigure, marker="s", ls="none", markersize=8,
                      color="#FF8C1A", markeredgecolor="#8B4513"))
ftext(727, 907, r"$M$ $_{\rm p}$($H$)", fontsize=11, math_fontfamily="stixsans")

fig.savefig("out.png", dpi=100)
